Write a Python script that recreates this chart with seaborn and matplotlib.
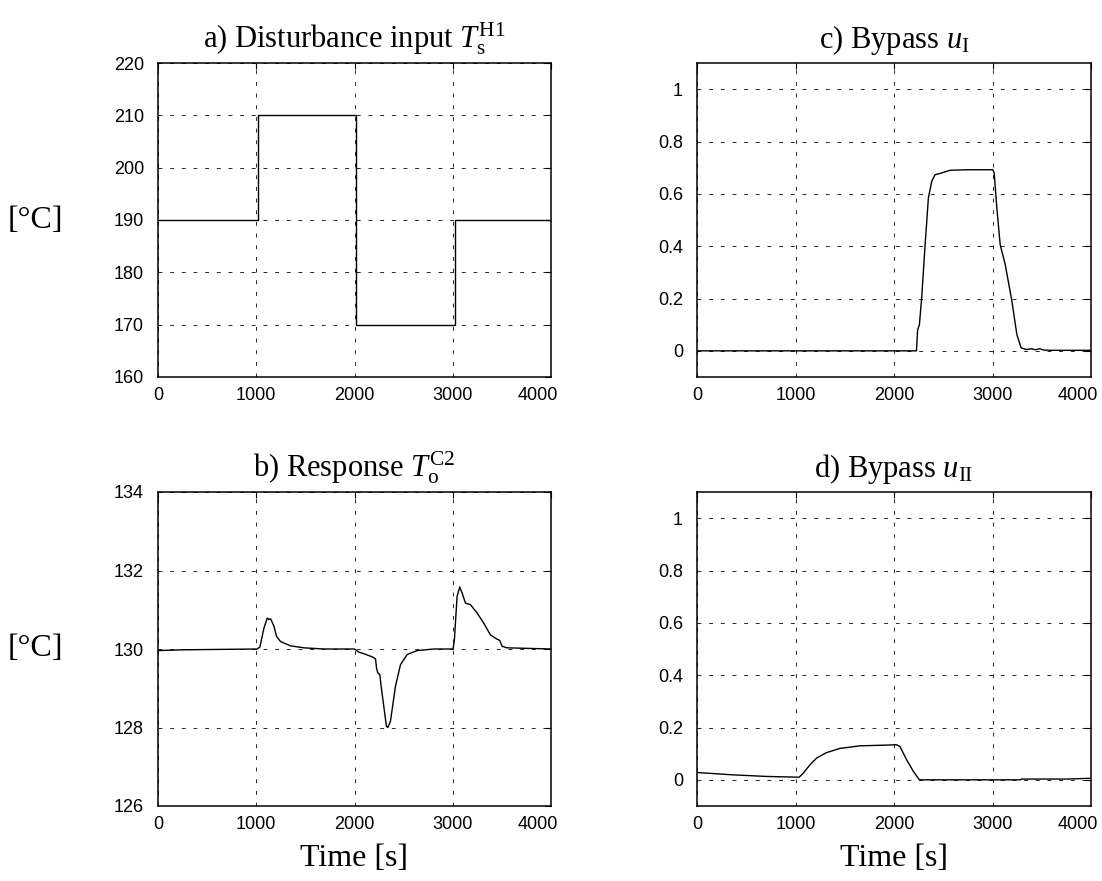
import numpy as np
import pandas as pd
import matplotlib
matplotlib.use("Agg")
import matplotlib.pyplot as plt
import matplotlib.transforms as mtransforms
import seaborn as sns

sns.set_style("white")
plt.rcParams["font.family"] = ["Liberation Sans", "DejaVu Sans"]
plt.rcParams["mathtext.fontset"] = "custom"
plt.rcParams["mathtext.rm"] = "Liberation Serif"
plt.rcParams["mathtext.it"] = "Liberation Serif:italic"
plt.rcParams["mathtext.bf"] = "Liberation Serif:bold"
plt.rcParams["text.color"] = "black"
plt.rcParams["axes.labelcolor"] = "black"
plt.rcParams["axes.titlecolor"] = "black"

# ---- data ----
# a) disturbance input T_s^H1 [°C]
t_a = [0, 1020, 1020, 2020, 2020, 3020, 3020, 4000]
T_a = [190, 190, 210, 210, 170, 170, 190, 190]

# b) response T_o^C2 [°C]
t_b = [0, 264, 1010, 1037, 1078, 1112, 1129, 1146, 1180, 1207, 1247, 1349, 1485, 1688,
       2000, 2044, 2095, 2180, 2214, 2224, 2237, 2258, 2271, 2298, 2325, 2339, 2366,
       2417, 2468, 2536, 2637, 2807, 3003, 3017, 3044, 3071, 3095, 3129, 3180, 3247,
       3315, 3383, 3451, 3478, 3502, 3553, 4000]
T_b = [129.96, 129.98, 130.0, 130.05, 130.53, 130.79, 130.75, 130.77, 130.58, 130.32,
       130.19, 130.08, 130.03, 130.0, 130.0, 129.92, 129.88, 129.80, 129.75, 129.52,
       129.39, 129.35, 129.05, 128.54, 128.03, 128.0, 128.16, 129.05, 129.6, 129.86,
       129.96, 130.0, 130.0, 130.24, 131.34, 131.58, 131.43, 131.17, 131.13, 130.92,
       130.66, 130.36, 130.25, 130.22, 130.07, 130.03, 130.0]

# c) bypass u_I
t_c = [0, 2228, 2240, 2258, 2281, 2315, 2349, 2383, 2417, 2468, 2569, 2739, 3003, 3017,
       3044, 3078, 3129, 3197, 3247, 3290, 3340, 3400, 3430, 3480, 3520, 3600, 4000]
u_c = [0.0, 0.0, 0.08, 0.10, 0.203, 0.40, 0.584, 0.648, 0.673, 0.678, 0.69, 0.692,
       0.692, 0.68, 0.546, 0.406, 0.33, 0.19, 0.063, 0.012, 0.005, 0.008, 0.004,
       0.008, 0.003, 0.002, 0.002]

# d) bypass u_II
t_d = [0, 366, 705, 1037, 1078, 1146, 1214, 1315, 1451, 1654, 1858, 2027, 2061, 2129,
       2197, 2258, 3281, 3298, 3756, 4000]
u_d = [0.028, 0.019, 0.013, 0.010, 0.025, 0.057, 0.083, 0.104, 0.12, 0.13, 0.132,
       0.134, 0.127, 0.076, 0.032, 0.0, 0.0, 0.003, 0.003, 0.006]

x_ticks = [0, 1000, 2000, 3000, 4000]
a_ticks = [160, 170, 180, 190, 200, 210, 220]
b_ticks = [126, 128, 130, 132, 134]
u_ticks = [0, 0.2, 0.4, 0.6, 0.8, 1]
u_labels = ["0", "0.2", "0.4", "0.6", "0.8", "1"]

# ---- figure ----
W, H = 1102, 881
fig = plt.figure(figsize=(W / 100, H / 100), dpi=100)

def px_axes(l, r, t, b):
    return fig.add_axes([l / W, 1 - b / H, (r - l) / W, (b - t) / H])

ax_a = px_axes(158, 551, 63, 377)
ax_c = px_axes(697, 1091, 63, 377)
ax_b = px_axes(158, 551, 492, 806)
ax_d = px_axes(697, 1091, 492, 806)

serif = ["Liberation Serif", "DejaVu Serif"]
title_size = 22
label_size = 23

def style(ax, yticks, ylim, ylabels=None):
    ax.set_xlim(0, 4000)
    ax.set_ylim(*ylim)
    ax.set_xticks(x_ticks)
    ax.set_xticklabels([str(v) for v in x_ticks])
    ax.set_yticks(yticks)
    if ylabels is not None:
        ax.set_yticklabels(ylabels)
    ax.grid(True, color="0.15", linestyle=(0, (4, 8)), linewidth=0.7)
    ax.tick_params(direction="in", length=4, width=0.8, top=True, right=True,
                   labelsize=13, colors="black")
    ax.tick_params(axis="x", pad=7)
    ax.tick_params(axis="y", pad=10)
    for s in ax.spines.values():
        s.set_visible(True)
        s.set_color("black")
        s.set_linewidth(1.1)
    ax.set_xlabel("")
    ax.set_ylabel("")
    # last x tick label shifted left as in the reference
    tk = ax.xaxis.get_major_ticks()[-1]
    off = mtransforms.ScaledTranslation(-13 / 100, 0, fig.dpi_scale_trans)
    tk.label1.set_transform(tk.label1.get_transform() + off)

def line(ax, t, v):
    df = pd.DataFrame({"t": t, "v": v})
    sns.lineplot(data=df, x="t", y="v", ax=ax, color="black", linewidth=1.0,
                 sort=False, estimator=None)

line(ax_a, t_a, T_a)
line(ax_b, t_b, T_b)
line(ax_c, t_c, u_c)
line(ax_d, t_d, u_d)

style(ax_a, a_ticks, (160, 220))
style(ax_b, b_ticks, (126, 134))
style(ax_c, u_ticks, (-0.1, 1.1), u_labels)
style(ax_d, u_ticks, (-0.1, 1.1), u_labels)

ax_a.set_title(r"a) Disturbance input $T_{\mathrm{s}}^{\mathrm{H1}}$", family=serif,
               fontsize=title_size, pad=11)
ax_b.set_title(r"b) Response $T_{\mathrm{o}}^{\mathrm{C2}}$", family=serif,
               fontsize=title_size, pad=11)
ax_c.set_title(r"c) Bypass $u_{\mathrm{I}}$", family=serif, fontsize=title_size, pad=11)
ax_d.set_title(r"d) Bypass $u_{\mathrm{II}}$", family=serif, fontsize=title_size, pad=11)

for ax in (ax_a, ax_b):
    ax.set_ylabel("[°C]", family=serif, fontsize=label_size, rotation=0,
                  va="center", ha="center")
    ax.yaxis.set_label_coords((35 - 158) / 393, 0.5)

for ax in (ax_b, ax_d):
    ax.set_xlabel("Time [s]", family=serif, fontsize=label_size, va="center")
    ax.xaxis.set_label_coords(0.5, -(858 - 806) / 314)

fig.savefig("out.png", dpi=100)
